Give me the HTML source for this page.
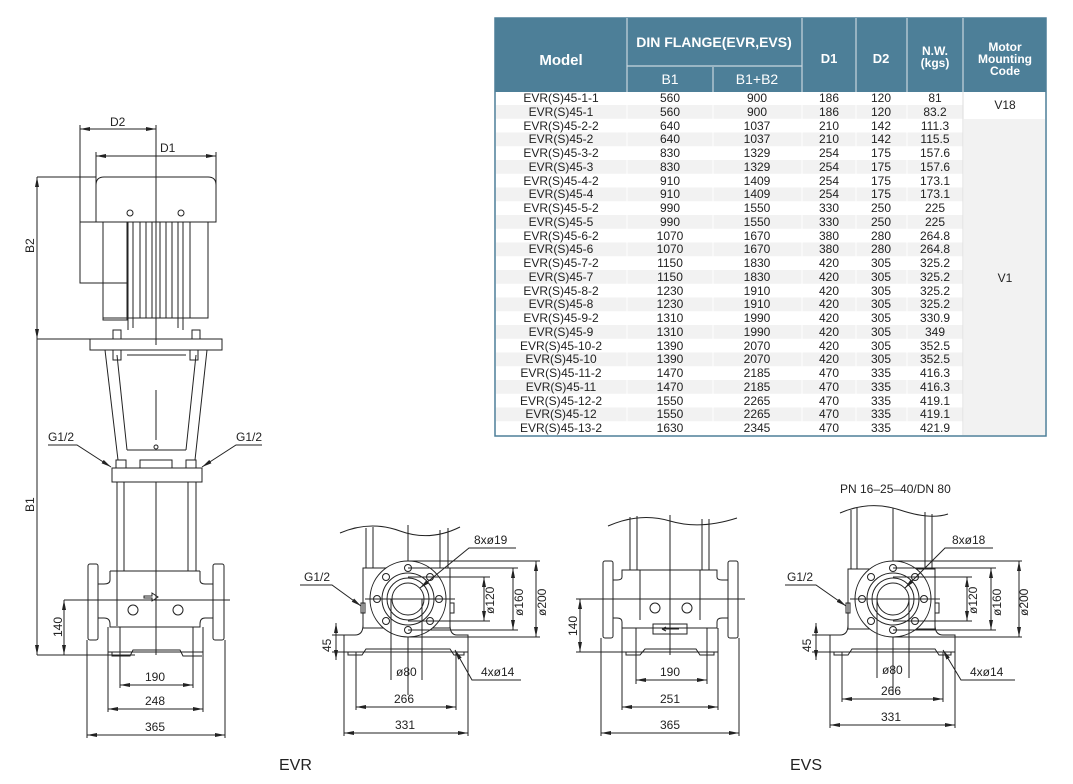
<!DOCTYPE html>
<html><head><meta charset="utf-8"><style>
html,body{margin:0;padding:0;background:#fff;}
svg{display:block;font-family:"Liberation Sans",Arial,sans-serif;}
.l{stroke:#222;stroke-width:1;fill:none}
.t{stroke:#333;stroke-width:0.6;fill:none}
.f{fill:#fff;stroke:#222;stroke-width:1}
.d{font-size:12px;fill:#222}
.tb{font-size:12px;fill:#222;text-anchor:middle}
.h{fill:#fff;font-weight:bold;text-anchor:middle}
</style></head><body>
<svg width="1073" height="784" viewBox="0 0 1073 784" xmlns="http://www.w3.org/2000/svg">
<defs>
<marker id="a" viewBox="0 0 10 6" refX="10" refY="3" markerWidth="10" markerHeight="6" orient="auto-start-reverse" markerUnits="userSpaceOnUse"><path d="M0,1 L10,3 L0,5 Z" fill="#222"/></marker>
</defs>

<!-- ============ TABLE ============ -->
<rect x="495" y="18" width="551" height="418" fill="#fff" stroke="#4d7f98" stroke-width="1.5"/>
<rect x="495" y="18" width="551" height="74" fill="#4d7f98"/>
<g fill="#f2f2f2">
<rect x="496" y="105" width="467" height="13.75"/><rect x="496" y="132.5" width="467" height="13.75"/><rect x="496" y="160" width="467" height="13.75"/><rect x="496" y="187.5" width="467" height="13.75"/><rect x="496" y="215" width="467" height="13.75"/><rect x="496" y="242.5" width="467" height="13.75"/><rect x="496" y="270" width="467" height="13.75"/><rect x="496" y="297.5" width="467" height="13.75"/><rect x="496" y="325" width="467" height="13.75"/><rect x="496" y="352.5" width="467" height="13.75"/><rect x="496" y="380" width="467" height="13.75"/><rect x="496" y="407.5" width="467" height="13.75"/>
<rect x="964" y="119" width="81" height="316"/>
</g>
<g stroke="#c9d6de" stroke-width="1.2">
<line x1="627" y1="18" x2="627" y2="92"/><line x1="713" y1="67" x2="713" y2="92"/><line x1="802" y1="18" x2="802" y2="92"/><line x1="856" y1="18" x2="856" y2="92"/><line x1="907" y1="18" x2="907" y2="92"/><line x1="963" y1="18" x2="963" y2="92"/><line x1="627" y1="66" x2="802" y2="66"/>
</g>
<g stroke="#fff" stroke-width="1"><line x1="627" y1="92" x2="627" y2="435"/><line x1="713" y1="92" x2="713" y2="435"/><line x1="802" y1="92" x2="802" y2="435"/><line x1="856" y1="92" x2="856" y2="435"/><line x1="907" y1="92" x2="907" y2="435"/></g>
<line x1="963" y1="92" x2="963" y2="435" stroke="#ddd"/>
<text class="h" x="561" y="65" style="font-size:15px">Model</text>
<text class="h" x="714" y="47" style="font-size:14px">DIN FLANGE(EVR,EVS)</text>
<text x="670" y="84" fill="#fff" style="font-size:14px" text-anchor="middle">B1</text>
<text x="757" y="84" fill="#fff" style="font-size:14px" text-anchor="middle">B1+B2</text>
<text class="h" x="829" y="63" style="font-size:13px">D1</text>
<text class="h" x="881" y="63" style="font-size:13px">D2</text>
<text class="h" x="935" y="55" style="font-size:12px">N.W.</text>
<text class="h" x="935" y="67" style="font-size:12px">(kgs)</text>
<text class="h" x="1005" y="51" style="font-size:12px">Motor</text>
<text class="h" x="1005" y="63" style="font-size:12px">Mounting</text>
<text class="h" x="1005" y="75" style="font-size:12px">Code</text>
<text class="tb" x="1005" y="109">V18</text>
<text class="tb" x="1005" y="282">V1</text>
<g class="tb">
<text x="561" y="102">EVR(S)45-1-1</text><text x="670" y="102">560</text><text x="757" y="102">900</text><text x="829" y="102">186</text><text x="881" y="102">120</text><text x="935" y="102">81</text>
<text x="561" y="116">EVR(S)45-1</text><text x="670" y="116">560</text><text x="757" y="116">900</text><text x="829" y="116">186</text><text x="881" y="116">120</text><text x="935" y="116">83.2</text>
<text x="561" y="130">EVR(S)45-2-2</text><text x="670" y="130">640</text><text x="757" y="130">1037</text><text x="829" y="130">210</text><text x="881" y="130">142</text><text x="935" y="130">111.3</text>
<text x="561" y="143">EVR(S)45-2</text><text x="670" y="143">640</text><text x="757" y="143">1037</text><text x="829" y="143">210</text><text x="881" y="143">142</text><text x="935" y="143">115.5</text>
<text x="561" y="157">EVR(S)45-3-2</text><text x="670" y="157">830</text><text x="757" y="157">1329</text><text x="829" y="157">254</text><text x="881" y="157">175</text><text x="935" y="157">157.6</text>
<text x="561" y="171">EVR(S)45-3</text><text x="670" y="171">830</text><text x="757" y="171">1329</text><text x="829" y="171">254</text><text x="881" y="171">175</text><text x="935" y="171">157.6</text>
<text x="561" y="185">EVR(S)45-4-2</text><text x="670" y="185">910</text><text x="757" y="185">1409</text><text x="829" y="185">254</text><text x="881" y="185">175</text><text x="935" y="185">173.1</text>
<text x="561" y="198">EVR(S)45-4</text><text x="670" y="198">910</text><text x="757" y="198">1409</text><text x="829" y="198">254</text><text x="881" y="198">175</text><text x="935" y="198">173.1</text>
<text x="561" y="212">EVR(S)45-5-2</text><text x="670" y="212">990</text><text x="757" y="212">1550</text><text x="829" y="212">330</text><text x="881" y="212">250</text><text x="935" y="212">225</text>
<text x="561" y="226">EVR(S)45-5</text><text x="670" y="226">990</text><text x="757" y="226">1550</text><text x="829" y="226">330</text><text x="881" y="226">250</text><text x="935" y="226">225</text>
<text x="561" y="240">EVR(S)45-6-2</text><text x="670" y="240">1070</text><text x="757" y="240">1670</text><text x="829" y="240">380</text><text x="881" y="240">280</text><text x="935" y="240">264.8</text>
<text x="561" y="253">EVR(S)45-6</text><text x="670" y="253">1070</text><text x="757" y="253">1670</text><text x="829" y="253">380</text><text x="881" y="253">280</text><text x="935" y="253">264.8</text>
<text x="561" y="267">EVR(S)45-7-2</text><text x="670" y="267">1150</text><text x="757" y="267">1830</text><text x="829" y="267">420</text><text x="881" y="267">305</text><text x="935" y="267">325.2</text>
<text x="561" y="281">EVR(S)45-7</text><text x="670" y="281">1150</text><text x="757" y="281">1830</text><text x="829" y="281">420</text><text x="881" y="281">305</text><text x="935" y="281">325.2</text>
<text x="561" y="295">EVR(S)45-8-2</text><text x="670" y="295">1230</text><text x="757" y="295">1910</text><text x="829" y="295">420</text><text x="881" y="295">305</text><text x="935" y="295">325.2</text>
<text x="561" y="308">EVR(S)45-8</text><text x="670" y="308">1230</text><text x="757" y="308">1910</text><text x="829" y="308">420</text><text x="881" y="308">305</text><text x="935" y="308">325.2</text>
<text x="561" y="322">EVR(S)45-9-2</text><text x="670" y="322">1310</text><text x="757" y="322">1990</text><text x="829" y="322">420</text><text x="881" y="322">305</text><text x="935" y="322">330.9</text>
<text x="561" y="336">EVR(S)45-9</text><text x="670" y="336">1310</text><text x="757" y="336">1990</text><text x="829" y="336">420</text><text x="881" y="336">305</text><text x="935" y="336">349</text>
<text x="561" y="350">EVR(S)45-10-2</text><text x="670" y="350">1390</text><text x="757" y="350">2070</text><text x="829" y="350">420</text><text x="881" y="350">305</text><text x="935" y="350">352.5</text>
<text x="561" y="363">EVR(S)45-10</text><text x="670" y="363">1390</text><text x="757" y="363">2070</text><text x="829" y="363">420</text><text x="881" y="363">305</text><text x="935" y="363">352.5</text>
<text x="561" y="377">EVR(S)45-11-2</text><text x="670" y="377">1470</text><text x="757" y="377">2185</text><text x="829" y="377">470</text><text x="881" y="377">335</text><text x="935" y="377">416.3</text>
<text x="561" y="391">EVR(S)45-11</text><text x="670" y="391">1470</text><text x="757" y="391">2185</text><text x="829" y="391">470</text><text x="881" y="391">335</text><text x="935" y="391">416.3</text>
<text x="561" y="405">EVR(S)45-12-2</text><text x="670" y="405">1550</text><text x="757" y="405">2265</text><text x="829" y="405">470</text><text x="881" y="405">335</text><text x="935" y="405">419.1</text>
<text x="561" y="418">EVR(S)45-12</text><text x="670" y="418">1550</text><text x="757" y="418">2265</text><text x="829" y="418">470</text><text x="881" y="418">335</text><text x="935" y="418">419.1</text>
<text x="561" y="432">EVR(S)45-13-2</text><text x="670" y="432">1630</text><text x="757" y="432">2345</text><text x="829" y="432">470</text><text x="881" y="432">335</text><text x="935" y="432">421.9</text>
</g>

<!-- ============ MAIN PUMP ============ -->
<g class="l">
<line x1="80" y1="129" x2="156" y2="129" marker-start="url(#a)" marker-end="url(#a)"/>
<line x1="80" y1="125" x2="80" y2="222"/>
<line x1="96" y1="156" x2="216" y2="156" marker-start="url(#a)" marker-end="url(#a)"/>
<line x1="96" y1="152" x2="96" y2="190"/><line x1="216" y1="152" x2="216" y2="190"/>
<line x1="156" y1="125" x2="156" y2="345"/>
<line x1="37" y1="177" x2="96" y2="177"/>
<line x1="37" y1="339" x2="90" y2="339"/>
<line x1="37" y1="177" x2="37" y2="339" marker-start="url(#a)" marker-end="url(#a)"/>
<line x1="37" y1="339" x2="37" y2="655" marker-end="url(#a)"/>
<line x1="37" y1="655" x2="135" y2="655"/>
<path d="M96,222 L96,185 Q96,177 104,177 L208,177 Q216,177 216,185 L216,222 Z"/>
<rect x="80" y="222" width="47" height="61"/>
<rect x="103" y="283" width="24" height="37"/>
<line x1="103" y1="222" x2="103" y2="320"/>
<rect x="127" y="222" width="81" height="96"/>
<line x1="103" y1="318" x2="208" y2="318"/>
<line x1="128" y1="222" x2="128" y2="330"/><line x1="133" y1="222" x2="133" y2="328"/>
<line x1="140" y1="222" x2="140" y2="318"/><line x1="146" y1="222" x2="146" y2="318"/><line x1="152" y1="222" x2="152" y2="318"/><line x1="160" y1="222" x2="160" y2="318"/><line x1="166" y1="222" x2="166" y2="318"/><line x1="172" y1="222" x2="172" y2="318"/>
<line x1="178" y1="222" x2="178" y2="328"/><line x1="183" y1="222" x2="183" y2="330"/>
<line x1="190" y1="222" x2="190" y2="318"/>
<circle cx="130" cy="213" r="3"/><circle cx="181" cy="213" r="3"/>
<rect x="113" y="330" width="8" height="9"/><rect x="192" y="330" width="8" height="9"/>
<rect x="90" y="339" width="132" height="11"/>
<path d="M105,350 L118,460"/><path d="M117,355 L127,450"/>
<path d="M207,350 L195,460"/><path d="M196,355 L186,450"/>
<path d="M127,355 L186,355"/><path d="M127,450 L186,450"/>
<line x1="156" y1="390" x2="156" y2="440"/>
<circle cx="156" cy="447" r="2"/>
<rect x="113" y="350" width="8" height="10"/><rect x="190" y="350" width="8" height="10"/>
<rect x="116" y="460" width="10" height="8"/><rect x="186" y="460" width="10" height="8"/>
<rect x="112" y="468" width="90" height="14"/>
<rect x="140" y="460" width="32" height="8"/>
<line x1="117" y1="482" x2="117" y2="571"/><line x1="124" y1="482" x2="124" y2="571"/>
<line x1="156" y1="482" x2="156" y2="655"/>
<line x1="188" y1="482" x2="188" y2="571"/><line x1="196" y1="482" x2="196" y2="571"/>
<path d="M110,571 L200,571 M117,571 L117,626 M200,571 L200,580 Q200,584 205,584 L213,584 L213,618 L205,618 Q200,618 200,624 L200,627 L110,627 L110,624 Q110,618 104,618 L98,618 L98,584 L104,584 Q110,584 110,580 L110,571"/>
<rect x="88" y="564" width="10" height="76" rx="2"/><rect x="213" y="564" width="11" height="76" rx="2"/>
<path d="M108,627 L108,652 L203,652 L203,627"/>
<path d="M112,652 L112,656 L130,656 L133,650 L180,650 L183,656 L202,656"/>
<circle cx="133" cy="610" r="5"/><circle cx="178" cy="610" r="5"/>
<path d="M144,596 L152,596 L152,593 L158,597 L152,601 L152,598 L144,598 Z"/>
<line x1="64" y1="600" x2="230" y2="600"/>
<line x1="64" y1="600" x2="64" y2="655" marker-start="url(#a)" marker-end="url(#a)"/>
<line x1="60" y1="655" x2="110" y2="655"/>
<line x1="120" y1="627" x2="120" y2="688"/><line x1="193" y1="627" x2="193" y2="688"/>
<line x1="120" y1="685" x2="193" y2="685" marker-start="url(#a)" marker-end="url(#a)"/>
<line x1="108" y1="652" x2="108" y2="712"/><line x1="203" y1="652" x2="203" y2="712"/>
<line x1="108" y1="709" x2="203" y2="709" marker-start="url(#a)" marker-end="url(#a)"/>
<line x1="87" y1="640" x2="87" y2="738"/><line x1="225" y1="640" x2="225" y2="738"/>
<line x1="87" y1="735" x2="225" y2="735" marker-start="url(#a)" marker-end="url(#a)"/>
<path d="M48,445 L77,445 L111,467" marker-end="url(#a)"/>
<path d="M262,445 L236,445 L202,467" marker-end="url(#a)"/>
</g>
<text class="d" x="110" y="126">D2</text>
<text class="d" x="160" y="152">D1</text>
<text class="d" transform="translate(34,253) rotate(-90)">B2</text>
<text class="d" transform="translate(34,512) rotate(-90)">B1</text>
<text class="d" transform="translate(62,637) rotate(-90)">140</text>
<text class="d" x="48" y="441">G1/2</text>
<text class="d" x="236" y="441">G1/2</text>
<text class="d" x="145" y="681">190</text>
<text class="d" x="145" y="705">248</text>
<text class="d" x="145" y="731">365</text>

<!-- ============ EVR SIDE ============ -->
<g class="l">
<path d="M340,533 Q370,520 400,531 T460,527"/>
<line x1="366" y1="528" x2="366" y2="568"/><line x1="373" y1="527" x2="373" y2="568"/>
<line x1="440" y1="530" x2="440" y2="568"/><line x1="448" y1="528" x2="448" y2="568"/>
<line x1="408" y1="525" x2="408" y2="695"/>
<rect x="363" y="568" width="87" height="60"/>
<path d="M344,652 L344,635 L355,635 Q363,635 363,625 M468,652 L468,635 L457,635 Q450,635 450,625"/>
<line x1="344" y1="652" x2="468" y2="652"/>
<path d="M348,652 L348,655 L362,655 L366,649 L450,649 L454,655 L464,655 L464,652"/>
<circle class="f" cx="408" cy="599" r="38"/>
<circle cx="408" cy="599" r="26"/><circle cx="408" cy="599" r="21"/><circle cx="408" cy="599" r="16"/>
<circle cx="408" cy="568" r="3.5"/><circle cx="408" cy="630" r="3.5"/><circle cx="377" cy="599" r="3.5"/><circle cx="439" cy="599" r="3.5"/>
<circle cx="386" cy="577" r="3.5"/><circle cx="430" cy="577" r="3.5"/><circle cx="386" cy="621" r="3.5"/><circle cx="430" cy="621" r="3.5"/>
<line x1="365" y1="599" x2="455" y2="599"/>
<rect x="361" y="603" width="4" height="10"/><rect x="450" y="603" width="4" height="10"/>
<line x1="408" y1="577" x2="490" y2="577"/><line x1="408" y1="621" x2="490" y2="621"/>
<line x1="484" y1="577" x2="484" y2="621" marker-start="url(#a)" marker-end="url(#a)"/>
<line x1="408" y1="568" x2="518" y2="568"/><line x1="408" y1="630" x2="518" y2="630"/>
<line x1="513" y1="568" x2="513" y2="630" marker-start="url(#a)" marker-end="url(#a)"/>
<line x1="408" y1="561" x2="540" y2="561"/><line x1="408" y1="637" x2="540" y2="637"/>
<line x1="536" y1="561" x2="536" y2="637" marker-start="url(#a)" marker-end="url(#a)"/>
<path d="M516,548 L469,548 L420,588" marker-end="url(#a)"/>
<path d="M300,585 L332,585 L361,606" marker-end="url(#a)"/>
<path d="M521,680 L472,680 L455,650" marker-end="url(#a)"/>
<line x1="336" y1="623" x2="336" y2="660" marker-start="url(#a)" marker-end="url(#a)"/>
<line x1="332" y1="635" x2="344" y2="635"/><line x1="332" y1="652" x2="344" y2="652"/>
<line x1="391" y1="599" x2="391" y2="680"/><line x1="422" y1="599" x2="422" y2="680"/>
<line x1="356" y1="652" x2="356" y2="710"/><line x1="456" y1="652" x2="456" y2="710"/>
<line x1="356" y1="707" x2="456" y2="707" marker-start="url(#a)" marker-end="url(#a)"/>
<line x1="344" y1="652" x2="344" y2="736"/><line x1="468" y1="652" x2="468" y2="736"/>
<line x1="344" y1="733" x2="468" y2="733" marker-start="url(#a)" marker-end="url(#a)"/>
</g>
<text class="d" x="474" y="544">8xø19</text>
<text class="d" x="304" y="581">G1/2</text>
<text class="d" x="481" y="676">4xø14</text>
<text class="d" transform="translate(331,652) rotate(-90)">45</text>
<text class="d" x="396" y="676">ø80</text>
<text class="d" x="394" y="703">266</text>
<text class="d" x="395" y="729">331</text>
<text class="d" transform="translate(494,614) rotate(-90)">ø120</text>
<text class="d" transform="translate(523,616) rotate(-90)">ø160</text>
<text class="d" transform="translate(546,616) rotate(-90)">ø200</text>
<text class="d" x="279" y="770" style="font-size:16px">EVR</text>

<!-- ============ EVS FRONT ============ -->
<g class="l">
<path d="M608,526 Q640,512 670,521 T737,518"/>
<line x1="630" y1="517" x2="630" y2="570"/><line x1="637" y1="516" x2="637" y2="570"/>
<line x1="702" y1="519" x2="702" y2="570"/><line x1="709" y1="519" x2="709" y2="570"/>
<line x1="670" y1="515" x2="670" y2="655"/>
<path d="M622,570 L717,570 L717,577 Q717,580 722,580 L728,580 L728,618 L722,618 Q717,618 717,622 L717,628 L622,628 L622,622 Q622,618 617,618 L613,618 L613,580 L617,580 Q622,580 622,577 Z"/>
<line x1="640" y1="570" x2="640" y2="620"/><line x1="700" y1="570" x2="700" y2="620"/>
<rect x="603" y="561" width="10" height="77" rx="2"/><rect x="728" y="561" width="10" height="77" rx="2"/>
<path d="M622,628 L622,652 L718,652 L718,628"/>
<rect x="653" y="624" width="34" height="10"/>
<path d="M662,629 L679,629 M662,629 L666,627 M662,629 L666,631"/>
<path d="M626,652 L626,655 L640,655 L645,649 L696,649 L700,655 L714,655 L714,652"/>
<circle cx="655" cy="608" r="5"/><circle cx="687" cy="608" r="5"/>
<line x1="576" y1="599" x2="745" y2="599"/>
<line x1="580" y1="599" x2="580" y2="652" marker-start="url(#a)" marker-end="url(#a)"/>
<line x1="576" y1="652" x2="622" y2="652"/>
<line x1="636" y1="628" x2="636" y2="684"/><line x1="707" y1="628" x2="707" y2="684"/>
<line x1="636" y1="680" x2="707" y2="680" marker-start="url(#a)" marker-end="url(#a)"/>
<line x1="622" y1="652" x2="622" y2="710"/><line x1="718" y1="652" x2="718" y2="710"/>
<line x1="622" y1="707" x2="718" y2="707" marker-start="url(#a)" marker-end="url(#a)"/>
<line x1="601" y1="638" x2="601" y2="736"/><line x1="739" y1="638" x2="739" y2="736"/>
<line x1="601" y1="733" x2="739" y2="733" marker-start="url(#a)" marker-end="url(#a)"/>
</g>
<text class="d" transform="translate(577,636) rotate(-90)">140</text>
<text class="d" x="660" y="676">190</text>
<text class="d" x="660" y="703">251</text>
<text class="d" x="660" y="729">365</text>

<!-- ============ EVS SIDE ============ -->
<g class="l">
<path d="M840,513 Q870,500 900,510 T948,514"/>
<line x1="851" y1="510" x2="851" y2="569"/><line x1="857" y1="508" x2="857" y2="569"/>
<line x1="925" y1="512" x2="925" y2="569"/><line x1="932" y1="514" x2="932" y2="569"/>
<line x1="893" y1="508" x2="893" y2="695"/>
<rect x="848" y="569" width="87" height="60"/>
<path d="M830,652 L830,635 L840,635 Q848,635 848,625 M955,652 L955,635 L943,635 Q935,635 935,625"/>
<line x1="830" y1="652" x2="955" y2="652"/>
<path d="M834,652 L834,655 L848,655 L852,649 L935,649 L939,655 L951,655 L951,652"/>
<circle class="f" cx="893" cy="599" r="38"/>
<circle cx="893" cy="599" r="26"/><circle cx="893" cy="599" r="21"/><circle cx="893" cy="599" r="16"/>
<circle cx="893" cy="568" r="3.5"/><circle cx="893" cy="630" r="3.5"/><circle cx="862" cy="599" r="3.5"/><circle cx="924" cy="599" r="3.5"/>
<circle cx="871" cy="577" r="3.5"/><circle cx="915" cy="577" r="3.5"/><circle cx="871" cy="621" r="3.5"/><circle cx="915" cy="621" r="3.5"/>
<line x1="850" y1="599" x2="940" y2="599"/>
<rect x="846" y="603" width="4" height="10"/><rect x="935" y="603" width="4" height="10"/>
<line x1="893" y1="577" x2="972" y2="577"/><line x1="893" y1="621" x2="972" y2="621"/>
<line x1="967" y1="577" x2="967" y2="621" marker-start="url(#a)" marker-end="url(#a)"/>
<line x1="893" y1="568" x2="996" y2="568"/><line x1="893" y1="630" x2="996" y2="630"/>
<line x1="991" y1="568" x2="991" y2="630" marker-start="url(#a)" marker-end="url(#a)"/>
<line x1="893" y1="561" x2="1022" y2="561"/><line x1="893" y1="637" x2="1022" y2="637"/>
<line x1="1019" y1="561" x2="1019" y2="637" marker-start="url(#a)" marker-end="url(#a)"/>
<path d="M993,548 L945,548 L905,588" marker-end="url(#a)"/>
<path d="M785,585 L816,585 L846,606" marker-end="url(#a)"/>
<path d="M1015,680 L961,680 L943,650" marker-end="url(#a)"/>
<line x1="816" y1="623" x2="816" y2="660" marker-start="url(#a)" marker-end="url(#a)"/>
<line x1="812" y1="635" x2="830" y2="635"/><line x1="812" y1="652" x2="830" y2="652"/>
<line x1="877" y1="599" x2="877" y2="678"/><line x1="909" y1="599" x2="909" y2="678"/>
<line x1="842" y1="652" x2="842" y2="702"/><line x1="943" y1="652" x2="943" y2="702"/>
<line x1="842" y1="699" x2="943" y2="699" marker-start="url(#a)" marker-end="url(#a)"/>
<line x1="830" y1="652" x2="830" y2="728"/><line x1="955" y1="652" x2="955" y2="728"/>
<line x1="830" y1="725" x2="955" y2="725" marker-start="url(#a)" marker-end="url(#a)"/>
</g>
<text class="d" x="840" y="493">PN 16–25–40/DN 80</text>
<text class="d" x="952" y="544">8xø18</text>
<text class="d" x="787" y="581">G1/2</text>
<text class="d" x="970" y="676">4xø14</text>
<text class="d" transform="translate(811,652) rotate(-90)">45</text>
<text class="d" x="882" y="674">ø80</text>
<text class="d" x="881" y="695">266</text>
<text class="d" x="881" y="721">331</text>
<text class="d" transform="translate(977,614) rotate(-90)">ø120</text>
<text class="d" transform="translate(1001,616) rotate(-90)">ø160</text>
<text class="d" transform="translate(1028,616) rotate(-90)">ø200</text>
<text class="d" x="790" y="770" style="font-size:16px">EVS</text>
</svg>
</body></html>
